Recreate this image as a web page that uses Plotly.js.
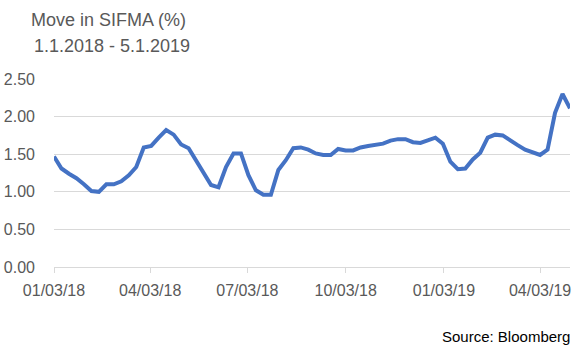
<!DOCTYPE html>
<html>
<head>
<meta charset="utf-8">
<script src="https://cdn.plot.ly/plotly-3.0.1.min.js"></script>
<style>html,body{margin:0;padding:0;background:#fff;}#chart{width:586px;height:356px;}</style>
</head>
<body>
<div id="chart"></div>
<script>
var weekDates = [
  '2018-01-03','2018-01-10','2018-01-17','2018-01-24','2018-01-31',
  '2018-02-07','2018-02-14','2018-02-21','2018-02-28',
  '2018-03-07','2018-03-14','2018-03-21','2018-03-28',
  '2018-04-04','2018-04-11','2018-04-18','2018-04-25',
  '2018-05-02','2018-05-09','2018-05-16','2018-05-23','2018-05-30',
  '2018-06-06','2018-06-13','2018-06-20','2018-06-27',
  '2018-07-04','2018-07-11','2018-07-18','2018-07-25',
  '2018-08-01','2018-08-08','2018-08-15','2018-08-22','2018-08-29',
  '2018-09-05','2018-09-12','2018-09-19','2018-09-26',
  '2018-10-03','2018-10-10','2018-10-17','2018-10-24','2018-10-31',
  '2018-11-07','2018-11-14','2018-11-21','2018-11-28',
  '2018-12-05','2018-12-12','2018-12-19','2018-12-26',
  '2019-01-02','2019-01-09','2019-01-16','2019-01-23','2019-01-30',
  '2019-02-06','2019-02-13','2019-02-20','2019-02-27',
  '2019-03-06','2019-03-13','2019-03-20','2019-03-27',
  '2019-04-03','2019-04-10','2019-04-17','2019-04-24',
  '2019-05-01'
];
var sifmaValues = [
  1.47,1.31,1.24,1.18,1.10,1.01,1.00,1.10,1.10,1.14,
  1.22,1.33,1.59,1.61,1.72,1.82,1.76,1.63,1.58,1.42,
  1.25,1.09,1.06,1.33,1.51,1.51,1.22,1.02,0.96,0.96,
  1.29,1.42,1.58,1.59,1.56,1.51,1.49,1.49,1.57,1.55,
  1.55,1.59,1.61,1.62,1.64,1.68,1.70,1.70,1.66,1.65,
  1.69,1.72,1.64,1.40,1.30,1.31,1.43,1.52,1.72,1.76,
  1.75,1.68,1.62,1.56,1.53,1.49,1.56,2.05,2.30,2.11
];
var xTickDates = ['2018-01-03','2018-04-03','2018-07-03','2018-10-03','2019-01-03','2019-04-03'];
var xTickLabels = ['01/03/18','04/03/18','07/03/18','10/03/18','01/03/19','04/03/19'];
var yTickValues = [0, 0.5, 1.0, 1.5, 2.0, 2.5];
var titleLine1 = 'Move in SIFMA (%)';
var titleLine2 = '1.1.2018 - 5.1.2019';
var sourceText = 'Source: Bloomberg';

var FONT = '"Liberation Sans", Arial, sans-serif';
var trace = {
  x: weekDates, y: sifmaValues, type: 'scatter', mode: 'lines',
  line: {color: '#4472C4', width: 4}, hoverinfo: 'skip'
};
var layout = {
  width: 586, height: 356,
  margin: {l: 54, r: 16, t: 79, b: 89, pad: 0},
  paper_bgcolor: '#ffffff', plot_bgcolor: '#ffffff',
  showlegend: false,
  font: {family: FONT, color: '#595959', size: 16},
  xaxis: {
    type: 'date', range: [weekDates[0], weekDates[weekDates.length-1]],
    tickmode: 'array', tickvals: xTickDates, ticktext: xTickLabels,
    showgrid: false, zeroline: false,
    showline: true, linecolor: '#d9d9d9', linewidth: 1,
    ticks: 'outside', ticklen: 5, tickcolor: '#d9d9d9', tickwidth: 1,
    tickfont: {family: FONT, size: 16, color: '#595959'},
    ticklabelstandoff: 4
  },
  yaxis: {
    range: [0, 2.5], tickmode: 'array', tickvals: yTickValues, tickformat: '.2f',
    showgrid: true, gridcolor: '#d9d9d9', gridwidth: 1.3,
    zeroline: false, showline: false, ticks: '',
    tickfont: {family: FONT, size: 16, color: '#595959'},
    ticklabelstandoff: 18
  },
  annotations: [
    {text: titleLine1, xref: 'paper', yref: 'paper', x: -0.0484, y: (266.7-20)/187.7,
     xanchor: 'left', yanchor: 'middle', showarrow: false,
     font: {family: FONT, size: 18, color: '#595959'}},
    {text: titleLine2, xref: 'paper', yref: 'paper', x: -0.0426, y: (266.7-46)/187.7,
     xanchor: 'left', yanchor: 'middle', showarrow: false,
     font: {family: FONT, size: 18, color: '#595959'}},
    {text: sourceText, xref: 'paper', yref: 'paper', x: (572-54)/516, y: (266.7-336)/187.7,
     xanchor: 'right', yanchor: 'middle', showarrow: false,
     font: {family: FONT, size: 15, color: '#000000'}}
  ]
};
Plotly.newPlot('chart', [trace], layout, {staticPlot: true, displayModeBar: false});
</script>
</body>
</html>
